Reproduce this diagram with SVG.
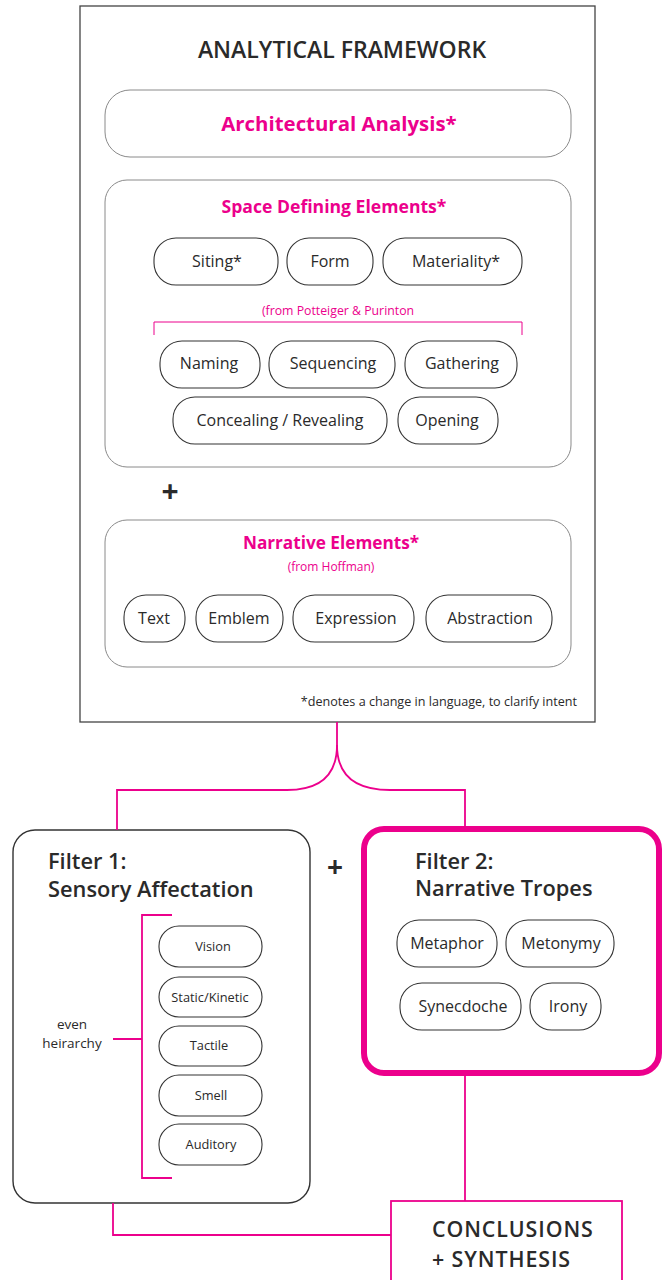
<svg xmlns="http://www.w3.org/2000/svg" width="668" height="1280" viewBox="0 0 668 1280">
<style>
text{font-family:"Open Sans",Lato,"Liberation Sans",sans-serif;fill:#2a2a2a}
.pill{fill:#fff;stroke:#333;stroke-width:1.1}
.panel{fill:#fff;stroke:#8a8a8a;stroke-width:1}
.pt{font-size:16px;text-anchor:middle}
.st{font-size:12.8px;text-anchor:middle}
.pink{fill:#ec008c}
.h{font-weight:bold;fill:#ec008c;text-anchor:middle}
.con{fill:none;stroke:#ec008c;stroke-width:1.8}
.ft{font-size:21.8px;font-weight:600}
.cs{font-size:21.4px;font-weight:600;letter-spacing:0.9px}
</style>
<rect width="668" height="1280" fill="#fff"/>
<g id="framework">
<rect x="80" y="6" width="515" height="716" fill="#fff" stroke="#444" stroke-width="1.3"/>
<text x="342" y="58" font-size="23" font-weight="600" text-anchor="middle">ANALYTICAL FRAMEWORK</text>
<text x="577" y="706" font-size="12.6" text-anchor="end">*denotes a change in language, to clarify intent</text>
<text x="170" y="502" font-size="30" font-weight="bold" text-anchor="middle">+</text>
</g>
<g id="architectural-analysis">
<rect class="panel" x="105" y="90" width="466" height="67" rx="25"/>
<text class="h" x="339" y="131" font-size="20.4">Architectural Analysis*</text>
</g>
<g id="space-defining">
<rect class="panel" x="105" y="180" width="466" height="287" rx="22"/>
<text class="h" x="334" y="213" font-size="17.6">Space Defining Elements*</text>
<text class="pink" x="338" y="315" font-size="12.3" text-anchor="middle">(from Potteiger &amp; Purinton</text>
<path d="M154 335V322H522V335" fill="none" stroke="#ec008c" stroke-width="1"/>
</g>
<g id="siting"><rect class="pill" x="154" y="238" width="124" height="47" rx="22"/><text class="pt" x="217" y="267">Siting*</text></g>
<g id="form"><rect class="pill" x="287" y="238" width="86" height="47" rx="22"/><text class="pt" x="330" y="267">Form</text></g>
<g id="materiality"><rect class="pill" x="383" y="238" width="139" height="47" rx="22"/><text class="pt" x="456" y="267">Materiality*</text></g>
<g id="naming"><rect class="pill" x="160" y="341" width="100" height="47" rx="22"/><text class="pt" x="209" y="369">Naming</text></g>
<g id="sequencing"><rect class="pill" x="269" y="341" width="126" height="47" rx="22"/><text class="pt" x="333" y="369">Sequencing</text></g>
<g id="gathering"><rect class="pill" x="405" y="341" width="112" height="47" rx="22"/><text class="pt" x="462" y="369">Gathering</text></g>
<g id="concealing"><rect class="pill" x="173" y="397" width="214" height="47" rx="22"/><text class="pt" x="280" y="426">Concealing / Revealing</text></g>
<g id="opening"><rect class="pill" x="398" y="397" width="100" height="47" rx="22"/><text class="pt" x="447" y="426">Opening</text></g>
<g id="narrative-elements">
<rect class="panel" x="105" y="520" width="466" height="147" rx="22"/>
<text class="h" x="331" y="549" font-size="17.2">Narrative Elements*</text>
<text class="pink" x="331" y="571" font-size="12" text-anchor="middle">(from Hoffman)</text>
</g>
<g id="text-el"><rect class="pill" x="124" y="595" width="61" height="47" rx="22"/><text class="pt" x="154" y="624">Text</text></g>
<g id="emblem"><rect class="pill" x="196" y="595" width="87" height="47" rx="22"/><text class="pt" x="239" y="624">Emblem</text></g>
<g id="expression"><rect class="pill" x="293" y="595" width="121" height="47" rx="22"/><text class="pt" x="356" y="624">Expression</text></g>
<g id="abstraction"><rect class="pill" x="426" y="595" width="126" height="47" rx="22"/><text class="pt" x="490" y="624">Abstraction</text></g>
<g id="filter1">
<rect x="13" y="830" width="297" height="373" rx="22" fill="#fff" stroke="#333" stroke-width="1.4"/>
<text class="ft" x="48" y="869">Filter 1:</text>
<text class="ft" x="48" y="897">Sensory Affectation</text>
<text x="72" y="1029" font-size="13.5" text-anchor="middle">even</text>
<text x="72" y="1048" font-size="13.5" text-anchor="middle">heirarchy</text>
</g>
<g id="vision"><rect class="pill" x="159" y="926" width="103" height="41" rx="20"/><text class="st" x="213" y="951">Vision</text></g>
<g id="static"><rect class="pill" x="159" y="977" width="103" height="40" rx="20"/><text class="st" x="210" y="1002">Static/Kinetic</text></g>
<g id="tactile"><rect class="pill" x="159" y="1026" width="103" height="40" rx="20"/><text class="st" x="209" y="1050">Tactile</text></g>
<g id="smell"><rect class="pill" x="159" y="1075" width="103" height="41" rx="20"/><text class="st" x="211" y="1100">Smell</text></g>
<g id="auditory"><rect class="pill" x="159" y="1124" width="103" height="41" rx="20"/><text class="st" x="211" y="1149">Auditory</text></g>
<text x="335" y="877" font-size="28" font-weight="bold" text-anchor="middle">+</text>
<g id="filter2">
<rect x="364" y="829" width="295" height="244" rx="20" fill="#fff" stroke="#ec008c" stroke-width="6"/>
<text class="ft" x="415" y="869">Filter 2:</text>
<text class="ft" x="415" y="896">Narrative Tropes</text>
</g>
<g id="metaphor"><rect class="pill" x="397" y="920" width="100" height="47" rx="22"/><text class="pt" x="447" y="949">Metaphor</text></g>
<g id="metonymy"><rect class="pill" x="506" y="920" width="108" height="47" rx="22"/><text class="pt" x="561" y="949">Metonymy</text></g>
<g id="synecdoche"><rect class="pill" x="400" y="983" width="121" height="47" rx="22"/><text class="pt" x="463" y="1012">Synecdoche</text></g>
<g id="irony"><rect class="pill" x="530" y="983" width="71" height="47" rx="22"/><text class="pt" x="568" y="1012">Irony</text></g>
<g id="conclusions">
<rect x="391" y="1201" width="231" height="90" fill="#fff" stroke="#ec008c" stroke-width="1.8"/>
<text class="cs" x="432" y="1237">CONCLUSIONS</text>
<text class="cs" x="432" y="1267">+ SYNTHESIS</text>
</g>
<g id="connectors">
<path class="con" d="M337 722V745C337 775 320 790 287 790H117V830"/>
<path class="con" d="M337 745C337 775 354 790 390 790H465V826"/>
<path class="con" d="M465 1076V1201"/>
<path class="con" d="M113 1203V1235H391"/>
<path class="con" d="M113 1039H142M172 915H142V1178H172"/>
</g>
</svg>
